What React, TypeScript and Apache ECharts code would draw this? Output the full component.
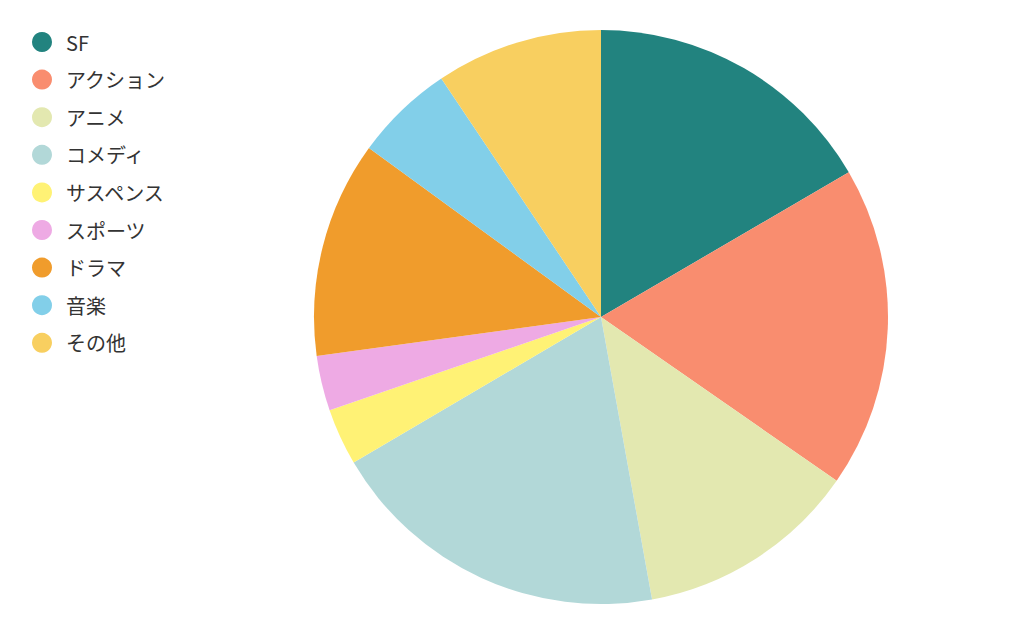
import React, { useEffect, useRef } from "react";
import * as echarts from "echarts";

const categories = ["SF", "アクション", "アニメ", "コメディ", "サスペンス", "スポーツ", "ドラマ", "音楽", "その他"];
const values = [16.6, 18.1, 12.5, 19.4, 3.2, 3.1, 12.2, 5.6, 9.4];
const colors = ["#22837f", "#f98d6f", "#e3e8b0", "#b2d8d8", "#fff275", "#eeaae4", "#f09c2c", "#82cfe9", "#f8cf60"];

export default function App() {
  const ref = useRef<HTMLDivElement>(null);
  useEffect(() => {
    document.body.style.margin = "0";
    const chart = echarts.init(ref.current!, undefined, { renderer: "svg" });
    chart.setOption({
      animation: false,
      color: colors,
      legend: {
        orient: "vertical",
        left: 32,
        top: 32,
        padding: 0,
        icon: "circle",
        itemWidth: 20,
        itemHeight: 20,
        itemGap: 17.6,
        textStyle: {
          fontSize: 20,
          color: "#333",
          padding: [0, 0, 0, 9],
          fontFamily: "'Noto Sans CJK JP', 'Noto Sans', sans-serif",
        },
        data: categories,
      },
      series: [
        {
          type: "pie",
          center: [601, 317],
          radius: 287,
          startAngle: 90,
          clockwise: true,
          label: { show: false },
          labelLine: { show: false },
          itemStyle: { borderWidth: 0 },
          data: categories.map((name, i) => ({ name, value: values[i] })),
        },
      ],
    });
    return () => chart.dispose();
  }, []);
  return <div ref={ref} style={{ width: 1024, height: 633 }} />;
}
